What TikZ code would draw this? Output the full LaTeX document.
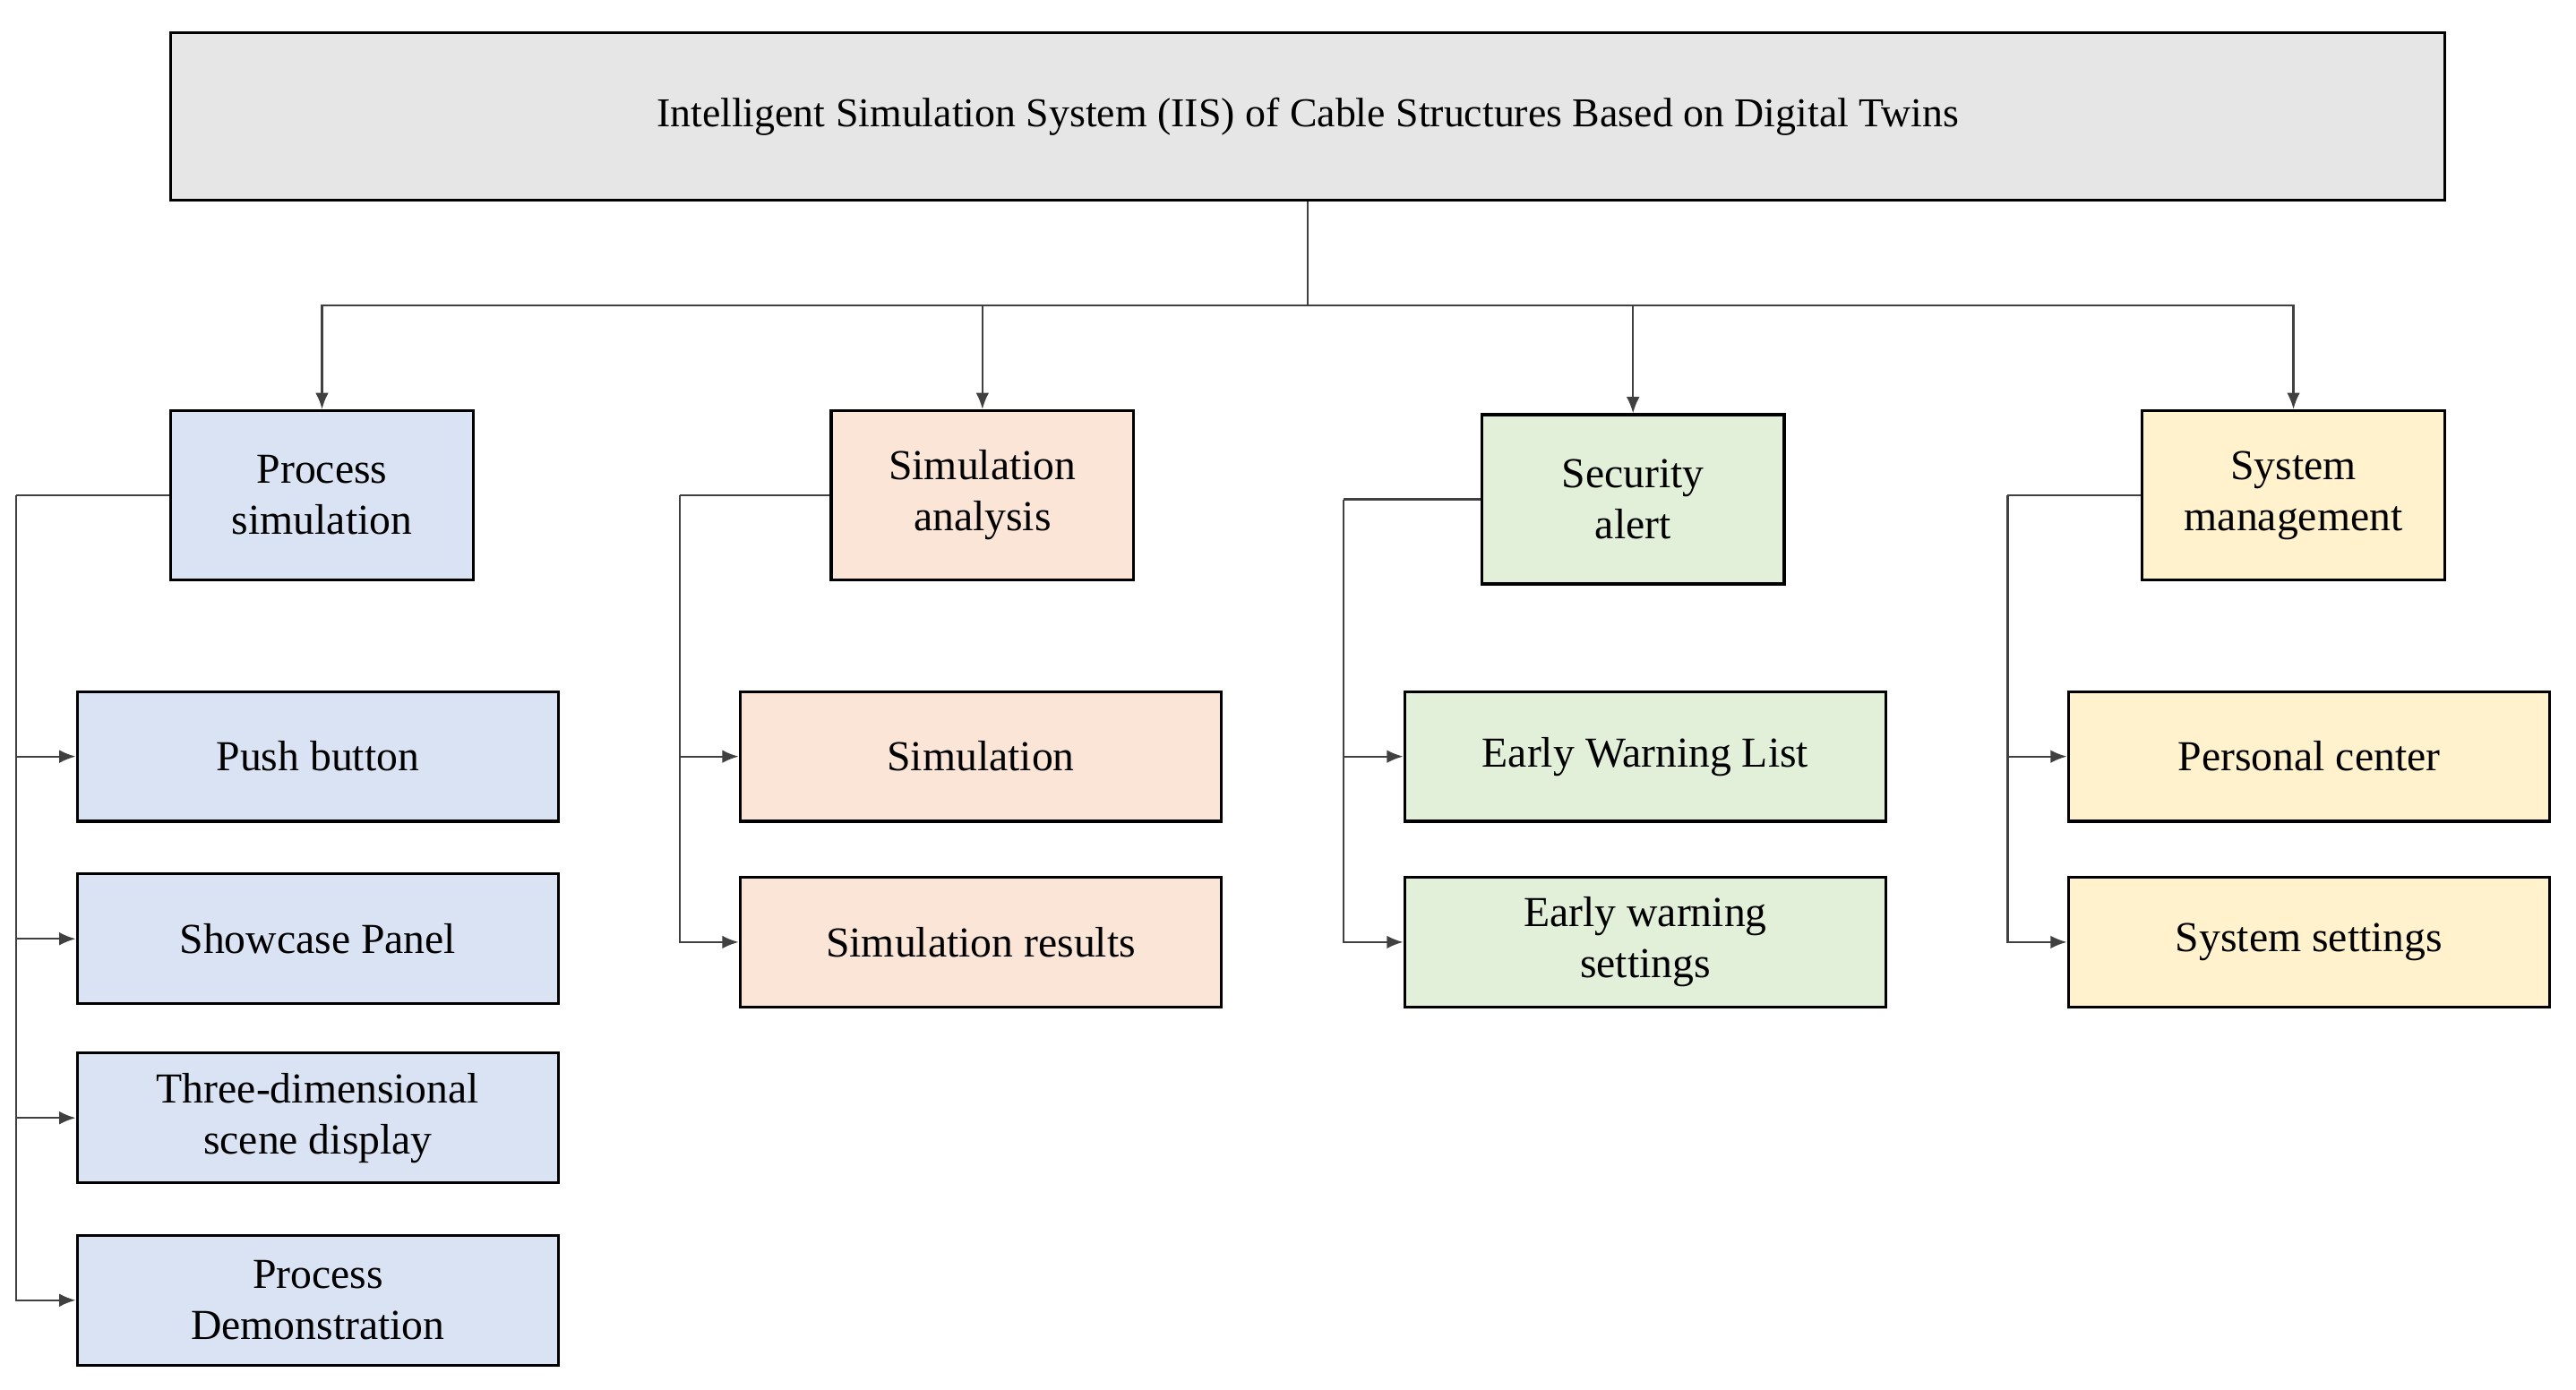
\documentclass[tikz,border=0pt]{standalone}
\usepackage{fontspec}
\setmainfont{Liberation Serif}
\usetikzlibrary{arrows.meta}
\definecolor{cgray}{HTML}{E7E6E6}
\definecolor{cblue}{HTML}{DAE3F3}
\definecolor{corange}{HTML}{FBE5D6}
\definecolor{cgreen}{HTML}{E2F0D9}
\definecolor{cyellow}{HTML}{FFF2CC}
\begin{document}
\begin{tikzpicture}[x=0.5pt,y=-0.5pt,
  box/.style={draw=black,line width=0.9pt,align=center,inner sep=0pt,font=\fontsize{13}{15.5}\selectfont},
  l2/.style={box,minimum width=92pt,minimum height=51.5pt},
  l3/.style={box,minimum width=146.5pt,minimum height=39.5pt},
  con/.style={draw=black!75,line width=0.6pt},
  arr/.style={con,-{Latex[length=5pt,width=4pt]}}]
\useasboundingbox (0,0) rectangle (1568,846);
\node[box,fill=cgray,minimum width=692pt,minimum height=51pt,font=\fontsize{12.5}{15}\selectfont] (top) at (796,71) {Intelligent Simulation System (IIS) of Cable Structures Based on Digital Twins};
\node[l2,fill=cblue] (ps) at (196,301.5) {Process\\simulation};
\node[l2,fill=corange] (sa) at (598,301.5) {Simulation\\analysis};
\node[l2,fill=cgreen] (se) at (994,304) {Security\\alert};
\node[l2,fill=cyellow] (sm) at (1396,301.5) {System\\management};
\coordinate (j) at (796,186);
\draw[con] (top.south) -- (j);
\foreach \n in {ps,sa,se,sm}{\draw[arr] (j) -| (\n.north);}
% children
\node[l3,fill=cblue] (p1) at (193.5,460.5) {Push button};
\node[l3,fill=cblue] (p2) at (193.5,571.5) {Showcase Panel};
\node[l3,fill=cblue] (p3) at (193.5,680.5) {Three-dimensional\\scene display};
\node[l3,fill=cblue] (p4) at (193.5,791.5) {Process\\Demonstration};
\node[l3,fill=corange] (a1) at (597,460.5) {Simulation};
\node[l3,fill=corange] (a2) at (597,573.5) {Simulation results};
\node[l3,fill=cgreen] (s1) at (1001.5,460.5) {Early Warning List};
\node[l3,fill=cgreen] (s2) at (1001.5,573.5) {Early warning\\settings};
\node[l3,fill=cyellow] (m1) at (1405.5,460.5) {Personal center};
\node[l3,fill=cyellow] (m2) at (1405.5,573.5) {System settings};
\coordinate (bp) at (10,301.5);
\coordinate (ba) at (414,301.5);
\coordinate (bs) at (818,304);
\coordinate (bm) at (1222,301.5);
\draw[con] (ps.west) -- (bp); \draw[con] (sa.west) -- (ba);
\draw[con] (se.west) -- (bs); \draw[con] (sm.west) -- (bm);
\foreach \c in {p1,p2,p3,p4}{\draw[arr] (bp) |- (\c.west);}
\foreach \c in {a1,a2}{\draw[arr] (ba) |- (\c.west);}
\foreach \c in {s1,s2}{\draw[arr] (bs) |- (\c.west);}
\foreach \c in {m1,m2}{\draw[arr] (bm) |- (\c.west);}
\end{tikzpicture}
\end{document}
